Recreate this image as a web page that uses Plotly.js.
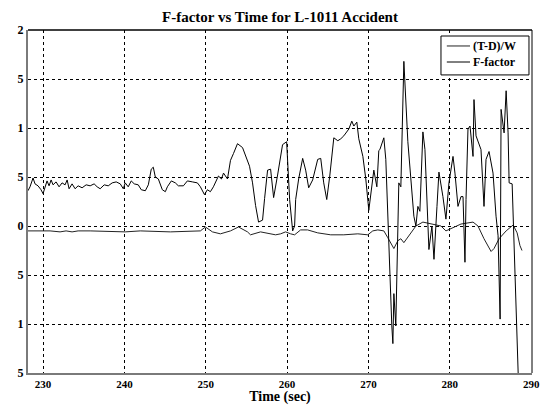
<!DOCTYPE html>
<html>
<head>
<meta charset="utf-8">
<script src="https://cdn.plot.ly/plotly-3.0.1.min.js"></script>
<style>html,body{margin:0;padding:0;background:#fff;}#chart{width:541px;height:405px;}</style>
</head>
<body>
<div id="chart"></div>
<script>
// (T-D)/W series (smooth, near zero)
const tdwTime = [228.15,230.86,232.09,232.83,233.57,234.31,235.79,238.62,240.10,241.95,245.65,249.34,249.96,250.82,251.80,253.04,254.02,255.13,255.50,256.73,257.72,258.58,259.20,259.81,260.43,260.92,261.66,262.52,263.76,265.36,266.97,268.69,269.92,270.53,271.15,271.89,272.38,273.12,273.61,273.98,274.35,274.96,275.83,276.69,277.68,278.91,279.52,280.39,281.37,282.85,283.46,284.20,285.07,285.43,286.05,286.92,287.78,288.27,288.62,288.87];
const tdwValue = [-0.005,-0.005,-0.006,-0.005,-0.006,-0.005,-0.005,-0.006,-0.006,-0.005,-0.006,-0.005,-0.001,-0.006,-0.008,-0.005,-0.001,-0.006,-0.009,-0.006,-0.008,-0.009,-0.008,-0.006,-0.008,-0.009,-0.004,-0.004,-0.007,-0.009,-0.009,-0.008,-0.009,-0.005,-0.004,-0.005,-0.012,-0.023,-0.015,-0.013,-0.017,-0.010,0.000,0.004,0.002,0.000,-0.005,-0.002,0.002,0.004,0.000,-0.013,-0.026,-0.023,-0.013,-0.005,0.001,-0.007,-0.020,-0.025];

// F-factor series (noisy, wild after 270 s)
const ffTime = [228.15,228.40,228.77,229.01,229.38,229.75,230.00,230.25,230.49,230.74,230.99,231.23,231.60,231.97,232.34,232.71,232.96,233.20,233.57,233.94,234.31,234.80,235.30,235.79,236.28,236.65,237.02,237.52,238.01,238.50,238.99,239.49,239.86,240.10,240.47,240.84,241.21,241.70,242.07,242.57,242.94,243.30,243.55,243.80,244.17,244.66,245.03,245.28,245.77,246.26,246.63,247.25,247.74,248.36,248.97,249.34,249.84,250.20,250.57,250.94,251.56,251.93,252.18,252.67,253.04,253.41,253.90,254.52,254.89,255.38,255.75,256.12,256.49,256.98,257.23,257.60,257.97,258.34,258.83,259.44,259.94,260.31,260.68,260.92,261.05,261.42,261.91,262.28,262.65,263.14,263.76,264.13,264.50,264.87,265.24,265.74,266.23,266.60,266.97,267.59,267.95,268.20,268.57,268.81,269.31,269.67,270.04,270.29,270.66,271.03,271.27,271.40,271.89,272.13,272.50,272.87,273.00,273.12,273.36,273.61,273.73,273.98,274.35,274.84,275.21,275.58,275.83,276.07,276.32,276.69,276.94,277.31,277.43,277.80,278.05,278.42,278.66,279.15,279.52,279.89,280.39,280.63,281.00,281.37,281.62,281.86,281.99,282.23,282.48,282.85,282.97,283.22,283.46,283.83,284.20,284.45,284.82,285.31,285.68,285.93,286.18,286.30,286.67,286.92,287.16,287.29,287.66,287.90,288.15,288.40,288.55];
const ffValue = [0.036,0.040,0.049,0.043,0.041,0.037,0.033,0.040,0.046,0.041,0.047,0.042,0.045,0.040,0.044,0.042,0.047,0.038,0.043,0.038,0.041,0.039,0.042,0.041,0.043,0.040,0.038,0.042,0.041,0.044,0.045,0.043,0.038,0.044,0.040,0.046,0.043,0.042,0.037,0.036,0.042,0.058,0.060,0.050,0.048,0.037,0.035,0.040,0.046,0.044,0.041,0.041,0.046,0.045,0.044,0.040,0.032,0.037,0.035,0.040,0.051,0.048,0.054,0.048,0.067,0.074,0.084,0.080,0.072,0.061,0.044,0.021,0.004,0.006,0.028,0.057,0.058,0.029,0.052,0.083,0.086,0.027,-0.005,0.000,0.027,0.048,0.069,0.057,0.039,0.047,0.068,0.069,0.044,0.027,0.051,0.090,0.087,0.089,0.092,0.099,0.107,0.102,0.106,0.089,0.071,0.048,0.016,0.031,0.057,0.040,0.077,0.078,0.090,0.068,-0.024,-0.102,-0.120,-0.069,-0.102,-0.020,0.044,0.040,0.168,0.086,0.044,0.010,0.000,0.020,0.015,0.096,0.078,-0.014,-0.024,0.000,-0.034,0.020,0.055,0.030,0.007,0.044,0.071,0.054,0.020,0.030,0.030,-0.037,0.027,0.099,0.102,0.071,0.129,0.092,0.086,0.078,0.020,0.068,0.076,0.054,0.010,-0.010,-0.095,0.119,0.095,0.138,0.095,0.044,0.043,-0.024,-0.092,-0.150,-0.170];

const xTickVals = [230,240,250,260,270,280,290];
const xTickText = ['230','240','250','260','270','280','290'];
const yTickVals = [0.2,0.15,0.1,0.05,0,-0.05,-0.1,-0.15];
const yTickText = ['2','5','1','5','0','5','1','5'];
const seriesNames = ['(T-D)/W', 'F-factor'];
const seriesColors = ['#222', '#000'];

const serif = 'Liberation Serif, Times New Roman, serif';

const traces = [
  {x: tdwTime, y: tdwValue, name: seriesNames[0], type: 'scatter', mode: 'lines',
   line: {color: seriesColors[0], width: 1}},
  {x: ffTime, y: ffValue, name: seriesNames[1], type: 'scatter', mode: 'lines',
   line: {color: seriesColors[1], width: 1}}
];

// compact legend box (drawn as annotations + shapes in paper space)
const legBox = {x0: 0.8194, x1: 0.994, y0: 0.869, y1: 0.9825};
const legRows = [0.9534, 0.9067];
const legLine = {x0: 0.831, x1: 0.877, tx: 0.879};

const shapes = [
  {type: 'line', xref: 'paper', yref: 'paper', x0: 0, x1: 1, y0: 1, y1: 1,
   line: {color: '#000', width: 1.5}},
  {type: 'line', xref: 'paper', yref: 'paper', x0: 1, x1: 1, y0: 0, y1: 1,
   line: {color: '#000', width: 1}},
  {type: 'rect', xref: 'paper', yref: 'paper', x0: legBox.x0, x1: legBox.x1, y0: legBox.y0, y1: legBox.y1,
   fillcolor: '#fff', line: {color: '#000', width: 1}, layer: 'above'}
];
const annotations = [];
seriesNames.forEach((nm, i) => {
  shapes.push({type: 'line', xref: 'paper', yref: 'paper', x0: legLine.x0, x1: legLine.x1,
               y0: legRows[i], y1: legRows[i], line: {color: seriesColors[i], width: 1}, layer: 'above'});
  annotations.push({xref: 'paper', yref: 'paper', x: legLine.tx, y: legRows[i], xanchor: 'left',
                    yanchor: 'middle', showarrow: false, text: nm,
                    font: {family: serif, size: 12, color: '#000', weight: 'bold'}});
});

const layout = {
  width: 541, height: 405,
  margin: {l: 28, r: 9, t: 30, b: 32, pad: 0},
  paper_bgcolor: '#fff', plot_bgcolor: '#fff',
  showlegend: false,
  title: {text: 'F-factor vs Time for L-1011 Accident', x: 0.5, xref: 'paper',
          y: 1 - 17/405, yanchor: 'middle',
          font: {family: serif, size: 15, color: '#000', weight: 'bold'}},
  xaxis: {range: [228.15, 290.1], tickvals: xTickVals, ticktext: xTickText,
          showgrid: true, gridcolor: '#000', griddash: '3px,3px', gridwidth: 1,
          zeroline: false, showline: true, linecolor: '#7a7a7a', linewidth: 2,
          ticks: '', tickfont: {family: serif, size: 11, color: '#000', weight: 'bold'},
          title: {text: 'Time (sec)', standoff: 3,
                  font: {family: serif, size: 14, color: '#000', weight: 'bold'}},
          automargin: false},
  yaxis: {range: [-0.15, 0.2], tickvals: yTickVals, ticktext: yTickText,
          showgrid: true, gridcolor: '#000', griddash: '3px,3px', gridwidth: 1,
          zeroline: false, showline: true, linecolor: '#7a7a7a', linewidth: 2,
          ticks: '', tickfont: {family: serif, size: 12, color: '#000', weight: 'bold'},
          automargin: false},
  shapes: shapes,
  annotations: annotations
};

Plotly.newPlot('chart', traces, layout, {displayModeBar: false, staticPlot: true});
</script>
</body>
</html>
